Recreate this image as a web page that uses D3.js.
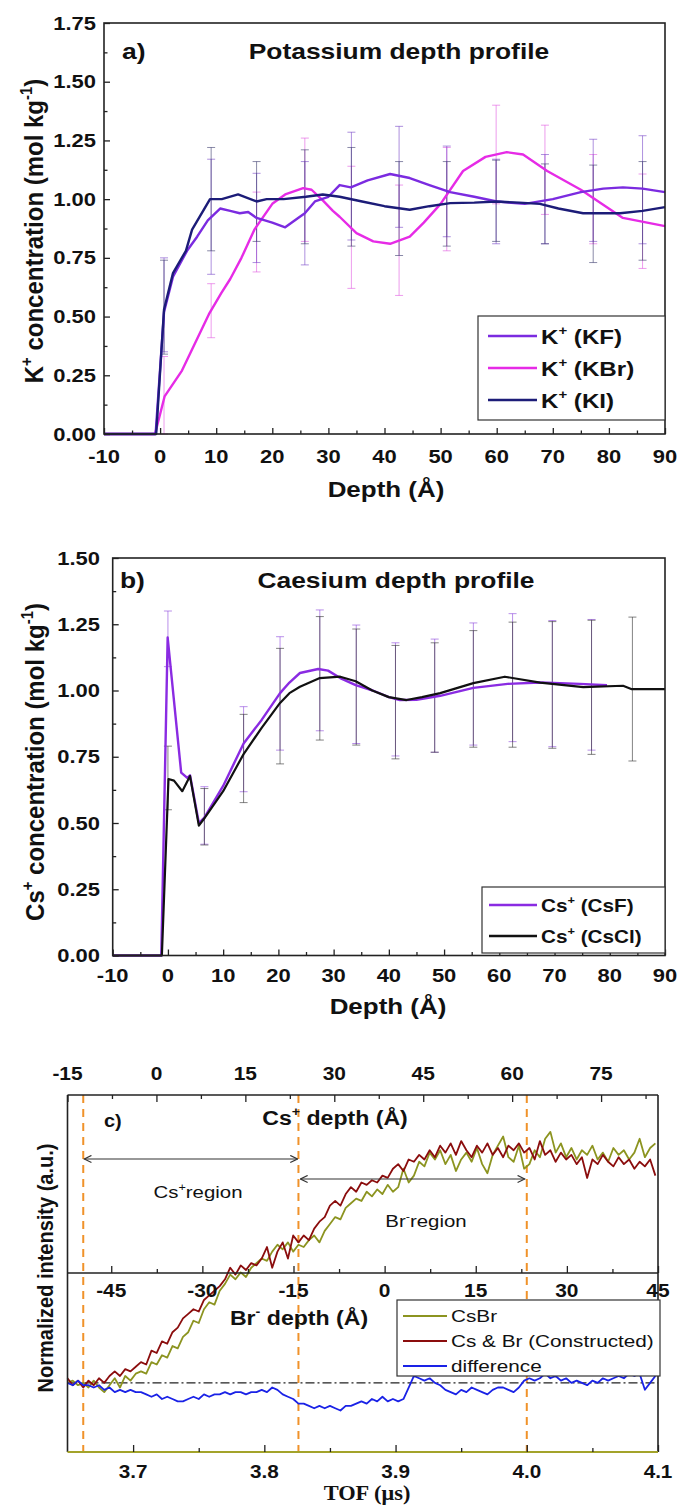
<!DOCTYPE html>
<html><head><meta charset="utf-8">
<script src="https://cdn.jsdelivr.net/npm/d3@7"></script>
<style>html,body{margin:0;padding:0;background:#fff}</style>
</head><body><svg id="fig" width="680" height="1508"></svg>
<script>
// ================= DATA =================
// Panel a: Potassium depth profile
const depthTicks = [-10,0,10,20,30,40,50,60,70,80,90];
const depthTickLabels = ["-10","0","10","20","30","40","50","60","70","80","90"];
const kTicksY = [0,0.25,0.5,0.75,1.0,1.25,1.5,1.75];
const kTickLabelsY = ["0.00","0.25","0.50","0.75","1.00","1.25","1.50","1.75"];

const kfDepth = [-10,-0.8,0.7,2.3,4.8,6.6,8.5,10.7,12.5,14.2,15.7,17.2,20,22.3,24.6,25.8,27.6,30,32,34,37,41,44.5,48,51.7,56,60,65,70,75,79,82.5,86,90];
const kfConc  = [0,0,0.52,0.67,0.78,0.84,0.91,0.96,0.95,0.94,0.945,0.92,0.90,0.88,0.92,0.94,0.99,1.01,1.06,1.05,1.08,1.107,1.09,1.06,1.03,1.01,0.99,0.98,1.00,1.03,1.045,1.05,1.045,1.03];
const kbrDepth = [-10,-0.9,0.8,3.9,8.7,10.9,12.5,14.5,16.8,20,22.3,25.5,27,29,30.8,32,35,38,41,44.5,47,50,54,58,61.8,64.7,69,75,82.5,90];
const kbrConc  = [0,0,0.16,0.27,0.51,0.60,0.66,0.75,0.87,0.98,1.02,1.047,1.04,0.995,0.95,0.925,0.855,0.82,0.81,0.84,0.90,0.98,1.12,1.18,1.20,1.19,1.12,1.04,0.92,0.885];
const kiDepth = [-10,-0.7,0.7,2.3,4.6,5.7,8.9,11,13.9,17.2,19,22,26,29,32,36,40,44.5,48,51.7,56,60,64,67.7,71,75.4,82,86,90];
const kiConc  = [0,0,0.53,0.685,0.78,0.87,1.0,1.0,1.02,0.99,1.0,1.0,1.01,1.02,1.01,0.99,0.97,0.955,0.97,0.983,0.985,0.99,0.985,0.98,0.96,0.94,0.94,0.95,0.966];

const errDepthA = [0.7,9.1,17.2,25.8,34.1,42.6,51.1,59.9,68.6,77.2,86];
const kfErrLo  = [0.35,0.68,0.73,0.72,0.826,0.88,0.84,0.81,0.81,0.82,0.81];
const kfErrHi  = [0.75,1.17,1.11,1.16,1.285,1.31,1.226,1.17,1.19,1.255,1.27];
const kbrErrLo = [0.0,0.41,0.69,0.82,0.62,0.59,0.78,0.98,0.935,0.81,0.705];
const kbrErrHi = [0.33,0.64,1.03,1.26,1.14,1.06,1.22,1.40,1.315,1.19,1.107];
const kiErrLo  = [0.34,0.78,0.82,0.81,0.80,0.76,0.80,0.82,0.81,0.73,0.74];
const kiErrHi  = [0.74,1.22,1.16,1.21,1.22,1.16,1.16,1.166,1.15,1.145,1.16];

// Panel b: Caesium depth profile
const csTicksY = [0,0.25,0.5,0.75,1.0,1.25,1.5];
const csTickLabelsY = ["0.00","0.25","0.50","0.75","1.00","1.25","1.50"];
const csfDepth = [-10,-1.2,-0.05,2.4,3.5,4.0,5.6,6.6,10,13.7,17,20.3,22,23.9,27.2,29,31.2,34,37.1,40,42,45,49.3,55.3,61.5,67.4,74.6,79.5];
const csfConc  = [0,0,1.20,0.69,0.67,0.68,0.50,0.52,0.64,0.80,0.89,0.99,1.03,1.066,1.081,1.075,1.047,1.02,1.0,0.975,0.964,0.965,0.98,1.01,1.025,1.03,1.025,1.02];
const csclDepth = [-10,-1.1,0.1,1.1,2.6,4.0,5.6,6.5,10,13.7,17,20.3,22,23.9,27.5,31.2,34,37,40,43.2,46,49.3,55.3,61,67.4,75.2,82.4,84,90];
const csclConc  = [0,0,0.666,0.66,0.62,0.677,0.49,0.515,0.62,0.76,0.86,0.953,0.99,1.014,1.047,1.052,1.035,1.0,0.975,0.964,0.975,0.99,1.028,1.052,1.03,1.013,1.018,1.005,1.005];

const errDepthB = [0,6.6,13.7,20.3,27.5,34.1,41.2,48.3,55.3,62.4,69.6,76.7,84.1];
const csfErrLo  = [1.09,0.42,0.618,0.775,0.848,0.80,0.753,0.767,0.794,0.807,0.788,0.775,null];
const csfErrHi  = [1.30,0.637,0.939,1.203,1.304,1.247,1.18,1.194,1.255,1.29,1.264,1.268,null];
const csclErrLo = [0.55,0.417,0.577,0.723,0.813,0.794,0.742,0.767,0.786,0.786,0.782,0.759,0.734];
const csclErrHi = [0.79,0.63,0.91,1.159,1.279,1.232,1.17,1.18,1.226,1.258,1.26,1.265,1.277];

// Panel c: TOF spectra (sampled from 3.650 us every 0.004 us)
const tofStart = 3.65, tofStep = 0.004;
const tofTicks = [3.7,3.8,3.9,4.0,4.1];
const tofTickLabels = ["3.7","3.8","3.9","4.0","4.1"];
const csDepthTicks = [-15,0,15,30,45,60,75];
const brDepthTicks = [-45,-30,-15,0,15,30,45];
const regionTOF = [3.662,3.826,4.0];
const csbrIntensity = [0.00,0.01,-0.01,0.00,-0.02,0.01,-0.02,-0.04,-0.01,0.02,
 -0.02,0.03,0.01,0.04,0.05,0.04,0.09,0.08,0.12,0.11,
 0.16,0.15,0.20,0.22,0.27,0.26,0.32,0.35,0.34,0.40,
 0.43,0.47,0.45,0.48,0.46,0.50,0.52,0.54,0.53,0.57,
 0.60,0.58,0.61,0.57,0.60,0.59,0.62,0.64,0.61,0.66,
 0.69,0.72,0.71,0.76,0.78,0.80,0.79,0.83,0.81,0.84,
 0.82,0.86,0.83,0.85,0.93,0.87,0.90,0.96,0.94,1.00,
 0.97,1.01,0.95,0.99,0.92,0.97,1.00,0.96,1.02,0.95,
 0.91,0.99,1.03,1.07,0.98,0.96,1.03,0.93,0.95,1.01,
 0.98,1.06,1.09,1.00,1.04,0.98,1.02,0.97,1.01,0.99,
 1.03,0.97,1.00,0.96,1.02,0.99,1.01,0.97,1.00,1.06,
 0.98,1.02,1.04];
const constructedIntensity = [0.02,-0.01,0.01,-0.02,0.01,-0.01,0.02,0.00,0.03,0.05,
 0.03,0.06,0.05,0.07,0.09,0.08,0.14,0.13,0.18,0.17,
 0.22,0.24,0.28,0.30,0.32,0.31,0.36,0.38,0.40,0.42,
 0.45,0.50,0.47,0.51,0.49,0.52,0.51,0.54,0.59,0.50,
 0.57,0.61,0.54,0.64,0.61,0.64,0.62,0.67,0.70,0.72,
 0.77,0.79,0.77,0.82,0.85,0.83,0.87,0.86,0.88,0.87,
 0.90,0.89,0.93,0.95,0.92,0.97,0.96,0.99,0.97,1.01,
 0.98,1.03,1.00,1.04,0.99,1.05,1.01,0.98,1.03,1.00,
 1.04,0.99,1.02,0.98,1.03,1.01,1.04,1.00,1.02,0.97,
 1.05,0.99,1.01,0.96,1.00,0.97,0.99,0.95,0.98,0.89,
 0.97,0.95,0.99,0.96,0.94,0.98,0.95,0.97,0.93,0.96,
 0.94,0.97,0.90];
const differenceIntensity = [0.00,-0.01,0.01,-0.01,-0.01,-0.02,-0.01,-0.03,-0.02,-0.04,
 -0.03,-0.04,-0.03,-0.04,-0.04,-0.05,-0.06,-0.05,-0.07,-0.06,
 -0.07,-0.08,-0.08,-0.07,-0.06,-0.07,-0.05,-0.06,-0.05,-0.05,
 -0.04,-0.05,-0.04,-0.04,-0.05,-0.04,-0.04,-0.03,-0.04,-0.02,
 -0.03,-0.05,-0.06,-0.07,-0.09,-0.09,-0.10,-0.11,-0.10,-0.11,
 -0.10,-0.11,-0.12,-0.10,-0.10,-0.09,-0.08,-0.09,-0.07,-0.08,
 -0.06,-0.08,-0.07,-0.08,-0.07,-0.02,0.03,0.02,0.01,0.02,
 0.00,-0.01,-0.03,-0.04,-0.05,-0.03,-0.04,-0.02,-0.03,-0.04,
 -0.05,-0.03,-0.02,-0.02,-0.03,-0.04,-0.02,0.01,0.02,0.01,
 0.02,0.04,0.02,0.03,0.01,0.02,0.00,0.01,0.00,-0.01,
 0.01,0.00,0.02,0.01,0.02,0.03,0.02,0.04,0.03,0.04,
 -0.03,0.00,0.03];

// ================= DRAWING =================
const FONT = "'Liberation Sans', Arial, sans-serif";
const svg = d3.select('#fig');
svg.append('rect').attr('width',680).attr('height',1508).attr('fill','#fff');

function txt(parent, x, y, segs, o = {}) {
  const size = o.size || 18, sx = o.sx || 1, sy = o.sy || 1, rot = o.rot || 0;
  const t = parent.append('text')
    .attr('transform', `translate(${x},${y}) rotate(${rot}) scale(${sx},${sy})`)
    .attr('text-anchor', o.anchor || 'middle')
    .attr('font-family', o.family || FONT)
    .attr('font-weight', o.weight || 'bold')
    .attr('font-size', size)
    .attr('fill', o.fill || '#111');
  if (typeof segs === 'string') segs = [{t: segs}];
  let cur = 0;
  segs.forEach(s => {
    const target = s.sup ? -0.42 * size : 0;
    const sp = t.append('tspan').attr('dy', target - cur).text(s.t);
    if (s.sup) sp.attr('font-size', size * 0.62);
    cur = target;
  });
  return t;
}

function inwardTicks(g, x, y, xMajor, xMinor, yMajor, yMinor) {
  const y0 = y.range()[0], x0 = x.range()[0];
  const ax = g.append('g').attr('color', '#222');
  ax.append('g').attr('transform', `translate(0,${y0})`)
    .call(d3.axisBottom(x).tickValues(xMajor).tickSize(-6).tickSizeOuter(0).tickFormat(''))
    .call(s => s.select('.domain').remove());
  ax.append('g').attr('transform', `translate(0,${y0})`)
    .call(d3.axisBottom(x).tickValues(xMinor).tickSize(-3.5).tickSizeOuter(0).tickFormat(''))
    .call(s => s.select('.domain').remove());
  ax.append('g').attr('transform', `translate(${x0},0)`)
    .call(d3.axisLeft(y).tickValues(yMajor).tickSize(-6).tickSizeOuter(0).tickFormat(''))
    .call(s => s.select('.domain').remove());
  ax.append('g').attr('transform', `translate(${x0},0)`)
    .call(d3.axisLeft(y).tickValues(yMinor).tickSize(-3.5).tickSizeOuter(0).tickFormat(''))
    .call(s => s.select('.domain').remove());
  ax.selectAll('line').attr('stroke-width', 1.3);
}

function frame(g, x, y) {
  const [x0, x1] = x.range(), [y0, y1] = y.range();
  g.append('rect').attr('x', x0).attr('y', y1).attr('width', x1 - x0).attr('height', y0 - y1)
    .attr('fill', 'none').attr('stroke', '#222').attr('stroke-width', 1.6);
}

function errBars(g, x, y, depths, lo, hi, color) {
  const data = depths.map((d, i) => ({d, lo: lo[i], hi: hi[i]})).filter(e => e.lo != null);
  const eg = g.append('g').attr('stroke', color).attr('stroke-width', 1).attr('fill', 'none');
  eg.selectAll('line.v').data(data).join('line').attr('class', 'v')
    .attr('x1', e => x(e.d)).attr('x2', e => x(e.d)).attr('y1', e => y(e.lo)).attr('y2', e => y(e.hi));
  eg.selectAll('line.lo').data(data).join('line').attr('class', 'lo')
    .attr('x1', e => x(e.d) - 4).attr('x2', e => x(e.d) + 4).attr('y1', e => y(e.lo)).attr('y2', e => y(e.lo));
  eg.selectAll('line.hi').data(data).join('line').attr('class', 'hi')
    .attr('x1', e => x(e.d) - 4).attr('x2', e => x(e.d) + 4).attr('y1', e => y(e.hi)).attr('y2', e => y(e.hi));
}

function series(g, x, y, xs, ys, color, w) {
  g.append('path').datum(d3.zip(xs, ys)).attr('fill', 'none').attr('stroke', color)
    .attr('stroke-width', w).attr('stroke-linejoin', 'round')
    .attr('d', d3.line().x(d => x(d[0])).y(d => y(d[1])));
}

const minorDepth = [-5,5,15,25,35,45,55,65,75,85];

// ---------- Panel a ----------
const COL_KF = '#7b2be0', COL_KBR = '#e62be6', COL_KI = '#1c1c78';
const xA = d3.scaleLinear().domain([-10, 90]).range([104, 665]);
const yA = d3.scaleLinear().domain([0, 1.75]).range([434, 23]);
const gA = svg.append('g');
{
  const cg = gA.append('g');
  errBars(cg, xA, yA, errDepthA, kbrErrLo, kbrErrHi, 'rgba(225,90,225,0.6)');
  errBars(cg, xA, yA, errDepthA, kfErrLo, kfErrHi, 'rgba(120,70,200,0.6)');
  errBars(cg, xA, yA, errDepthA, kiErrLo, kiErrHi, 'rgba(60,60,110,0.6)');
  series(cg, xA, yA, kbrDepth, kbrConc, COL_KBR, 2.4);
  series(cg, xA, yA, kfDepth, kfConc, COL_KF, 2.4);
  series(cg, xA, yA, kiDepth, kiConc, COL_KI, 2.4);
  inwardTicks(gA, xA, yA, depthTicks, minorDepth, kTicksY, [0.125,0.375,0.625,0.875,1.125,1.375,1.625]);
  frame(gA, xA, yA);
  kTicksY.forEach((v, i) => txt(gA, 96, yA(v) + 6.5, kTickLabelsY[i], {size: 18, sx: 1.22, anchor: 'end'}));
  depthTicks.forEach((v, i) => txt(gA, xA(v), 463, depthTickLabels[i], {size: 18, sx: 1.22}));
  txt(gA, 386, 497, 'Depth (Å)', {size: 22, sx: 1.18});
  txt(gA, 43, 231, [{t: 'K'}, {t: '+', sup: true}, {t: ' concentration (mol kg'}, {t: '-1', sup: true}, {t: ')'}], {size: 24, rot: -90, sy: 1.1});
  txt(gA, 122, 59, 'a)', {size: 22, sx: 1.2, anchor: 'start'});
  txt(gA, 399, 59, 'Potassium depth profile', {size: 22, sx: 1.2});
  // legend
  const lg = gA.append('g');
  lg.append('rect').attr('x', 478).attr('y', 316).attr('width', 187).attr('height', 104)
    .attr('fill', '#fff').attr('stroke', '#333').attr('stroke-width', 1.2);
  const legA = [['KF', COL_KF], ['KBr', COL_KBR], ['KI', COL_KI]];
  legA.forEach(([n, c], i) => {
    const yy = 336 + i * 32;
    lg.append('line').attr('x1', 488).attr('x2', 537).attr('y1', yy).attr('y2', yy).attr('stroke', c).attr('stroke-width', 2.6);
    txt(lg, 541, yy + 8, [{t: 'K'}, {t: '+', sup: true}, {t: ' (' + n + ')'}], {size: 21, sx: 1.15, anchor: 'start'});
  });
}

// ---------- Panel b ----------
const COL_CSF = '#8a2be2', COL_CSCL = '#111111';
const xB = d3.scaleLinear().domain([-10, 90]).range([112.7, 665]);
const yB = d3.scaleLinear().domain([0, 1.5]).range([955.5, 558]);
const gB = svg.append('g');
{
  errBars(gB, xB, yB, errDepthB, csfErrLo, csfErrHi, 'rgba(140,70,220,0.6)');
  errBars(gB, xB, yB, errDepthB, csclErrLo, csclErrHi, 'rgba(50,50,50,0.6)');
  series(gB, xB, yB, csfDepth, csfConc, COL_CSF, 2.4);
  series(gB, xB, yB, csclDepth, csclConc, COL_CSCL, 2.2);
  inwardTicks(gB, xB, yB, depthTicks, minorDepth, csTicksY, [0.125,0.375,0.625,0.875,1.125,1.375]);
  frame(gB, xB, yB);
  csTicksY.forEach((v, i) => txt(gB, 100, yB(v) + 6.5, csTickLabelsY[i], {size: 18, sx: 1.22, anchor: 'end'}));
  depthTicks.forEach((v, i) => txt(gB, xB(v), 982, depthTickLabels[i], {size: 18, sx: 1.22}));
  txt(gB, 388, 1014, 'Depth (Å)', {size: 22, sx: 1.18});
  txt(gB, 44, 762, [{t: 'Cs'}, {t: '+', sup: true}, {t: ' concentration (mol kg'}, {t: '-1', sup: true}, {t: ')'}], {size: 24, rot: -90, sy: 1.1});
  txt(gB, 120, 588, 'b)', {size: 22, sx: 1.2, anchor: 'start'});
  txt(gB, 396, 588, 'Caesium depth profile', {size: 22, sx: 1.2});
  const lg = gB.append('g');
  lg.append('rect').attr('x', 482).attr('y', 887).attr('width', 183).attr('height', 66)
    .attr('fill', '#fff').attr('stroke', '#333').attr('stroke-width', 1.2);
  [['CsF', COL_CSF], ['CsCl', COL_CSCL]].forEach(([n, c], i) => {
    const yy = 905 + i * 31;
    lg.append('line').attr('x1', 489).attr('x2', 537).attr('y1', yy).attr('y2', yy).attr('stroke', c).attr('stroke-width', 2.4);
    txt(lg, 541, yy + 7, [{t: 'Cs'}, {t: '+', sup: true}, {t: ' (' + n + ')'}], {size: 18, sx: 1.15, anchor: 'start'});
  });
}

// ---------- Panel c ----------
const COL_CSBR = '#8c9420', COL_CON = '#8b0d0d', COL_DIF = '#1a22e6';
const xC = d3.scaleLinear().domain([3.65, 4.1]).range([67.5, 658]);
const yC = d3.scaleLinear().domain([-0.3, 1.25]).range([1452, 1095]);
const xCs = d3.scaleLinear().domain([-15, 84.6]).range([67.5, 658]);
const xBr = d3.scaleLinear().domain([-52.2, 45]).range([67.5, 658]);
const gC = svg.append('g');
{
  const tof = csbrIntensity.map((_, i) => tofStart + i * tofStep);
  // orange dashed boundaries
  gC.selectAll('line.reg').data(regionTOF).join('line').attr('class', 'reg')
    .attr('x1', d => xC(d)).attr('x2', d => xC(d)).attr('y1', 1095).attr('y2', 1452)
    .attr('stroke', '#f0922a').attr('stroke-width', 2).attr('stroke-dasharray', '8,6');
  // baseline dash-dot
  gC.append('line').attr('x1', 67.5).attr('x2', 658).attr('y1', yC(0)).attr('y2', yC(0))
    .attr('stroke', '#222').attr('stroke-width', 1.2).attr('stroke-dasharray', '9,3,2,3');
  series(gC, xC, yC, tof, csbrIntensity, COL_CSBR, 1.8);
  series(gC, xC, yC, tof, constructedIntensity, COL_CON, 1.8);
  series(gC, xC, yC, tof, differenceIntensity, COL_DIF, 1.8);

  // frame: top, left, right black; bottom olive
  const ax = gC.append('g').attr('color', '#222');
  ax.append('line').attr('x1', 67.5).attr('x2', 658).attr('y1', 1095).attr('y2', 1095).attr('stroke', '#222').attr('stroke-width', 1.6);
  ax.append('line').attr('x1', 67.5).attr('x2', 67.5).attr('y1', 1095).attr('y2', 1452).attr('stroke', '#222').attr('stroke-width', 1.6);
  ax.append('line').attr('x1', 658).attr('x2', 658).attr('y1', 1095).attr('y2', 1452).attr('stroke', '#222').attr('stroke-width', 1.6);
  ax.append('line').attr('x1', 67.5).attr('x2', 658).attr('y1', 1273).attr('y2', 1273).attr('stroke', '#222').attr('stroke-width', 1.6);
  ax.append('line').attr('x1', 67.5).attr('x2', 658).attr('y1', 1452).attr('y2', 1452).attr('stroke', '#a3a32a').attr('stroke-width', 2);
  // top axis ticks (inward = down)
  ax.append('g').attr('transform', 'translate(0,1095)')
    .call(d3.axisTop(xCs).tickValues(csDepthTicks).tickSize(-7).tickSizeOuter(0).tickFormat(''))
    .call(s => s.select('.domain').remove());
  ax.append('g').attr('transform', 'translate(0,1095)')
    .call(d3.axisTop(xCs).tickValues([-7.5,7.5,22.5,37.5,52.5,67.5,82.5]).tickSize(-4).tickSizeOuter(0).tickFormat(''))
    .call(s => s.select('.domain').remove());
  // middle axis ticks (up)
  ax.append('g').attr('transform', 'translate(0,1273)')
    .call(d3.axisBottom(xBr).tickValues(brDepthTicks).tickSize(-7).tickSizeOuter(0).tickFormat(''))
    .call(s => s.select('.domain').remove());
  ax.append('g').attr('transform', 'translate(0,1273)')
    .call(d3.axisBottom(xBr).tickValues([-37.5,-22.5,-7.5,7.5,22.5,37.5]).tickSize(-4).tickSizeOuter(0).tickFormat(''))
    .call(s => s.select('.domain').remove());
  // bottom axis ticks (up)
  ax.append('g').attr('transform', 'translate(0,1452)')
    .call(d3.axisBottom(xC).tickValues(tofTicks).tickSize(-7).tickSizeOuter(0).tickFormat(''))
    .call(s => s.select('.domain').remove());
  ax.append('g').attr('transform', 'translate(0,1452)')
    .call(d3.axisBottom(xC).tickValues([3.75,3.85,3.95,4.05]).tickSize(-4).tickSizeOuter(0).tickFormat(''))
    .call(s => s.select('.domain').remove());
  ax.selectAll('.tick line').attr('stroke-width', 1.3);

  csDepthTicks.forEach(v => txt(gC, xCs(v), 1080, String(v), {size: 19, sx: 1.1}));
  brDepthTicks.forEach(v => txt(gC, xBr(v), 1297, String(v), {size: 19, sx: 1.1}));
  tofTicks.forEach((v, i) => txt(gC, xC(v), 1478, tofTickLabels[i], {size: 18, sx: 1.15}));
  txt(gC, 335, 1125, [{t: 'Cs'}, {t: '+', sup: true}, {t: ' depth (Å)'}], {size: 21, sx: 1.1});
  txt(gC, 299, 1325, [{t: 'Br'}, {t: '-', sup: true}, {t: ' depth (Å)'}], {size: 21, sx: 1.1});
  txt(gC, 104, 1127, 'c)', {size: 19, sx: 1.05, anchor: 'start'});
  txt(gC, 367, 1500, 'TOF (μs)', {size: 20, sx: 1.12, family: "'Liberation Serif', 'Times New Roman', serif"});
  txt(gC, 53, 1268, 'Normalized intensity (a.u.)', {size: 20, rot: -90, sy: 1.1});

  // region arrows
  const defs = svg.append('defs');
  defs.append('marker').attr('id', 'arr').attr('viewBox', '0 0 10 10').attr('refX', 9).attr('refY', 5)
    .attr('markerWidth', 9).attr('markerHeight', 9).attr('orient', 'auto-start-reverse').attr('markerUnits', 'userSpaceOnUse')
    .append('path').attr('d', 'M1,1 L9,5 L1,9').attr('fill', 'none').attr('stroke', '#333').attr('stroke-width', 1.3);
  gC.append('line').attr('x1', xC(regionTOF[0]) + 1).attr('x2', xC(regionTOF[1]) - 1).attr('y1', 1159).attr('y2', 1159)
    .attr('stroke', '#333').attr('stroke-width', 1.2).attr('marker-start', 'url(#arr)').attr('marker-end', 'url(#arr)');
  gC.append('line').attr('x1', xC(regionTOF[1]) + 2).attr('x2', xC(regionTOF[2]) - 2).attr('y1', 1179).attr('y2', 1179)
    .attr('stroke', '#333').attr('stroke-width', 1.2).attr('marker-start', 'url(#arr)').attr('marker-end', 'url(#arr)');
  txt(gC, 198, 1198, [{t: 'Cs'}, {t: '+', sup: true}, {t: 'region'}], {size: 17, sx: 1.2, weight: 'normal'});
  txt(gC, 426, 1227, [{t: 'Br'}, {t: '-', sup: true}, {t: 'region'}], {size: 17, sx: 1.2, weight: 'normal'});

  // legend
  const lg = gC.append('g');
  lg.append('rect').attr('x', 397).attr('y', 1300).attr('width', 263).attr('height', 76)
    .attr('fill', '#fff').attr('stroke', '#333').attr('stroke-width', 1.2);
  [['CsBr', COL_CSBR], ['Cs & Br (Constructed)', COL_CON], ['difference', COL_DIF]].forEach(([n, c], i) => {
    const yy = 1316 + i * 25;
    lg.append('line').attr('x1', 403).attr('x2', 447).attr('y1', yy).attr('y2', yy).attr('stroke', c).attr('stroke-width', 2);
    txt(lg, 451, yy + 6, n, {size: 17, sx: 1.22, weight: 'normal', anchor: 'start'});
  });
}
</script></body></html>
